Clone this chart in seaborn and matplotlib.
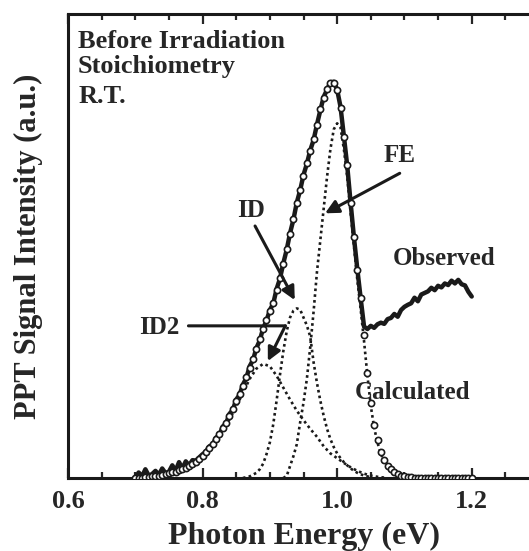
import numpy as np
import pandas as pd
import matplotlib
matplotlib.use("Agg")
import matplotlib.pyplot as plt
from matplotlib.ticker import MultipleLocator
import seaborn as sns

# ---- data (photon energy in eV, intensity in a.u.) ----
energy = [0.700, 0.705, 0.710, 0.715, 0.720, 0.725, 0.730, 0.735, 0.740, 0.745,
          0.750, 0.755, 0.760, 0.765, 0.770, 0.775, 0.780, 0.785, 0.790, 0.795,
          0.800, 0.805, 0.810, 0.815, 0.820, 0.825, 0.830, 0.835, 0.840, 0.845,
          0.850, 0.855, 0.860, 0.865, 0.870, 0.875, 0.880, 0.885, 0.890, 0.895,
          0.900, 0.905, 0.910, 0.915, 0.920, 0.925, 0.930, 0.935, 0.940, 0.945,
          0.950, 0.955, 0.960, 0.965, 0.970, 0.975, 0.980, 0.985, 0.990, 0.995,
          1.000, 1.005, 1.010, 1.015, 1.020, 1.025, 1.030, 1.035, 1.040, 1.045,
          1.050, 1.055, 1.060, 1.065, 1.070, 1.075, 1.080, 1.085, 1.090, 1.095,
          1.100, 1.105, 1.110, 1.115, 1.120, 1.125, 1.130, 1.135, 1.140, 1.145,
          1.150, 1.155, 1.160, 1.165, 1.170, 1.175, 1.180, 1.185, 1.190, 1.195,
          1.200]

calculated = [0.000, 0.001, 0.001, 0.002, 0.003, 0.004, 0.005, 0.006, 0.008, 0.010,
              0.012, 0.014, 0.016, 0.019, 0.022, 0.026, 0.030, 0.035, 0.041, 0.048,
              0.056, 0.065, 0.075, 0.086, 0.098, 0.111, 0.125, 0.140, 0.157, 0.175,
              0.194, 0.213, 0.233, 0.255, 0.278, 0.301, 0.325, 0.350, 0.375, 0.400,
              0.422, 0.441, 0.475, 0.505, 0.540, 0.578, 0.616, 0.654, 0.693, 0.728,
              0.763, 0.795, 0.825, 0.855, 0.890, 0.930, 0.960, 0.982, 0.997, 0.998,
              0.978, 0.935, 0.861, 0.790, 0.693, 0.609, 0.525, 0.455, 0.360, 0.265,
              0.190, 0.135, 0.095, 0.066, 0.045, 0.031, 0.022, 0.015, 0.010, 0.006,
              0.004, 0.003, 0.002, 0.001, 0.001, 0.000, 0.000, 0.000, 0.000, 0.000,
              0.000, 0.000, 0.000, 0.000, 0.000, 0.000, 0.000, 0.000, 0.000, 0.000,
              0.000]

observed = [0.000, 0.014, 0.004, 0.022, 0.006, 0.010, 0.018, 0.008, 0.024, 0.012,
            0.016, 0.032, 0.018, 0.040, 0.024, 0.042, 0.032, 0.045, 0.044, 0.052,
            0.060, 0.066, 0.080, 0.084, 0.102, 0.108, 0.130, 0.138, 0.162, 0.172,
            0.198, 0.210, 0.236, 0.252, 0.282, 0.298, 0.328, 0.347, 0.378, 0.397,
            0.424, 0.440, 0.477, 0.503, 0.542, 0.576, 0.618, 0.652, 0.695, 0.726,
            0.765, 0.793, 0.827, 0.853, 0.892, 0.928, 0.962, 0.980, 0.999, 1.000,
            0.980, 0.937, 0.863, 0.788, 0.695, 0.607, 0.527, 0.453, 0.382, 0.376,
            0.384, 0.379, 0.388, 0.392, 0.389, 0.401, 0.404, 0.414, 0.407, 0.424,
            0.432, 0.437, 0.441, 0.455, 0.446, 0.463, 0.467, 0.471, 0.480, 0.474,
            0.485, 0.481, 0.491, 0.487, 0.498, 0.491, 0.500, 0.489, 0.486, 0.470,
            0.458]

id2_energy = [0.72, 0.73, 0.74, 0.75, 0.76, 0.77, 0.78, 0.79, 0.80, 0.81,
              0.82, 0.83, 0.84, 0.85, 0.86, 0.87, 0.88, 0.89, 0.90, 0.91,
              0.92, 0.93, 0.94, 0.95, 0.96, 0.97, 0.98, 0.99, 1.00, 1.01,
              1.02, 1.03, 1.04, 1.05, 1.06, 1.07]
id2 = [0.001, 0.002, 0.004, 0.007, 0.011, 0.017, 0.025, 0.036, 0.050, 0.068,
       0.090, 0.117, 0.148, 0.180, 0.215, 0.250, 0.276, 0.288, 0.282, 0.258,
       0.228, 0.198, 0.170, 0.146, 0.124, 0.104, 0.080, 0.062, 0.050, 0.038,
       0.027, 0.018, 0.011, 0.006, 0.003, 0.001]

id_energy = [0.860, 0.870, 0.880, 0.885, 0.890, 0.895, 0.900, 0.905, 0.910, 0.915,
             0.920, 0.925, 0.930, 0.935, 0.940, 0.945, 0.950, 0.955, 0.960, 0.965,
             0.970, 0.975, 0.980, 0.985, 0.990, 0.995, 1.000, 1.005, 1.010, 1.020,
             1.030, 1.040, 1.050]
id_ = [0.000, 0.004, 0.013, 0.022, 0.036, 0.060, 0.090, 0.135, 0.195, 0.260,
       0.320, 0.370, 0.405, 0.422, 0.428, 0.425, 0.405, 0.385, 0.357, 0.292,
       0.240, 0.195, 0.157, 0.124, 0.098, 0.078, 0.062, 0.050, 0.040, 0.024,
       0.013, 0.006, 0.002]

fe_energy = [0.920, 0.925, 0.930, 0.935, 0.940, 0.945, 0.950, 0.955, 0.960, 0.965,
             0.970, 0.975, 0.980, 0.985, 0.990, 0.995, 1.000, 1.005, 1.010, 1.015,
             1.020, 1.025, 1.030, 1.035, 1.040, 1.045, 1.050, 1.055, 1.060, 1.065,
             1.070, 1.075, 1.080, 1.090, 1.100, 1.110]
fe = [0.000, 0.005, 0.030, 0.055, 0.085, 0.140, 0.190, 0.250, 0.330, 0.420,
      0.520, 0.600, 0.680, 0.760, 0.830, 0.880, 0.895, 0.885, 0.830, 0.760,
      0.670, 0.585, 0.500, 0.425, 0.345, 0.258, 0.182, 0.127, 0.089, 0.061,
      0.041, 0.028, 0.019, 0.008, 0.003, 0.000]

spectrum = pd.DataFrame({"energy": energy, "observed": observed, "calculated": calculated})

sns.set_theme(style="ticks")
plt.rcParams["font.family"] = ["Liberation Serif", "DejaVu Serif"]
plt.rcParams["font.weight"] = "bold"
plt.rcParams["axes.labelweight"] = "bold"

fig = plt.figure(figsize=(5.29, 5.51), dpi=100)
ax = fig.add_axes([68 / 529, 73 / 551, 471 / 529, 464 / 551])

dots = (0, (1, 1.2))
sns.lineplot(x=id2_energy, y=id2, ax=ax, color="k", lw=1.9, linestyle=dots, sort=False, estimator=None)
sns.lineplot(x=id_energy, y=id_, ax=ax, color="k", lw=1.9, linestyle=dots, sort=False, estimator=None)
sns.lineplot(x=fe_energy, y=fe, ax=ax, color="k", lw=1.9, linestyle=dots, sort=False, estimator=None)
sns.lineplot(data=spectrum, x="energy", y="observed", ax=ax, color="k", lw=3.2,
             sort=False, estimator=None)
sns.scatterplot(data=spectrum, x="energy", y="calculated", ax=ax, marker="o", s=20,
                facecolor="white", edgecolor="k", linewidth=1.2, zorder=3)

ax.set_xlim(0.6, 1.3)
ax.set_ylim(0, 1.171)
ax.xaxis.set_major_locator(MultipleLocator(0.2))
ax.xaxis.set_minor_locator(MultipleLocator(0.05))
ax.set_yticks([])
ax.tick_params(axis="x", which="both", direction="in", top=True, width=1.6,
               labelsize=19, pad=9)
ax.tick_params(axis="x", which="major", length=7)
ax.tick_params(axis="x", which="minor", length=4)
for s in ax.spines.values():
    s.set_linewidth(2.2)
    s.set_color("k")

ax.set_xlabel("Photon Energy (eV)", fontsize=23, labelpad=6)
ax.set_ylabel("PPT Signal Intensity (a.u.)", fontsize=22, labelpad=18)

# header text
ax.text(0.615, 1.084, "Before Irradiation", fontsize=19, fontweight="bold", va="baseline")
ax.text(0.615, 1.022, "Stoichiometry", fontsize=19, fontweight="bold", va="baseline")
ax.text(0.615, 0.946, "R.T.", fontsize=19, fontweight="bold", va="baseline")

# labels with arrows
arrow = dict(arrowstyle="-|>", color="k", lw=2.2, mutation_scale=20, shrinkA=0, shrinkB=0)
ax.text(1.092, 0.815, "FE", fontsize=18, fontweight="bold", ha="center", va="center")
ax.annotate("", xy=(0.982, 0.668), xytext=(1.093, 0.769), arrowprops=arrow)
ax.text(0.872, 0.676, "ID", fontsize=18, fontweight="bold", ha="center", va="center")
ax.annotate("", xy=(0.937, 0.449), xytext=(0.878, 0.636), arrowprops=arrow)
ax.text(0.735, 0.380, "ID2", fontsize=18, fontweight="bold", ha="center", va="center")
ax.annotate("", xy=(0.923, 0.384), xytext=(0.779, 0.384),
            arrowprops=dict(arrowstyle="-", color="k", lw=2.2, shrinkA=0, shrinkB=0))
ax.annotate("", xy=(0.897, 0.295), xytext=(0.923, 0.384), arrowprops=arrow)
ax.text(1.083, 0.553, "Observed", fontsize=18, fontweight="bold", va="center")
ax.text(1.026, 0.216, "Calculated", fontsize=18, fontweight="bold", va="center")

fig.savefig("out.png", dpi=100)
plt.close(fig)
